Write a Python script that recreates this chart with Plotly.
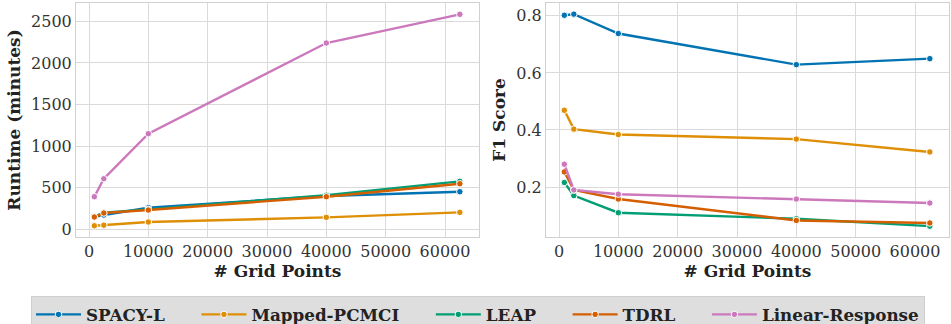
import plotly.graph_objects as go

grid_points = [900, 2500, 10000, 40000, 62500]
methods = ["SPACY-L", "Mapped-PCMCI", "LEAP", "TDRL", "Linear-Response"]
colors = ["#0173b2", "#de8f05", "#029e73", "#d55e00", "#cc78bc"]

runtime_spacy = [150, 172, 260, 400, 452]
runtime_pcmci = [43, 50, 88, 144, 204]
runtime_leap = [152, 200, 240, 410, 577]
runtime_tdrl = [148, 196, 232, 392, 548]
runtime_lr = [392, 608, 1149, 2239, 2584]

f1_spacy = [0.802, 0.806, 0.738, 0.629, 0.650]
f1_pcmci = [0.469, 0.403, 0.384, 0.368, 0.323]
f1_leap = [0.216, 0.170, 0.110, 0.089, 0.063]
f1_tdrl = [0.253, 0.190, 0.158, 0.083, 0.074]
f1_lr = [0.280, 0.190, 0.175, 0.158, 0.144]

runtimes = [runtime_spacy, runtime_pcmci, runtime_leap, runtime_tdrl, runtime_lr]
f1s = [f1_spacy, f1_pcmci, f1_leap, f1_tdrl, f1_lr]

xticks = [0, 10000, 20000, 30000, 40000, 50000, 60000]
xtick_labels = ["0", "10000", "20000", "30000", "40000", "50000", "60000"]
rt_ticks = [0, 500, 1000, 1500, 2000, 2500]
rt_tick_labels = ["0", "500", "1000", "1500", "2000", "2500"]
f1_ticks = [0.2, 0.4, 0.6, 0.8]
f1_tick_labels = ["0.2", "0.4", "0.6", "0.8"]

FONT = "DejaVu Serif"
fig = go.Figure()
for i, (name, c, rt, f1) in enumerate(zip(methods, colors, runtimes, f1s)):
    common = dict(mode="lines+markers", line=dict(color=c, width=2.4),
                  marker=dict(color=c, size=6.5, line=dict(color="white", width=1)))
    pad = "&nbsp;" * 5 if i < len(methods) - 1 else ""
    label = f"<b>{name}</b>{pad}"
    fig.add_trace(go.Scatter(x=grid_points, y=rt, name=label, legendgroup=name,
                             xaxis="x", yaxis="y", **common))
    fig.add_trace(go.Scatter(x=grid_points, y=f1, name=label, legendgroup=name,
                             showlegend=False, xaxis="x2", yaxis="y2", **common))

title_font = dict(family=FONT, size=17, color="#222222")
tick_font = dict(family=FONT, size=16, color="#333333")

fig.update_layout(
    width=951, height=324,
    margin=dict(l=0, r=0, t=3, b=87, autoexpand=False),
    paper_bgcolor="white", plot_bgcolor="white",
    font=dict(family=FONT, color="#333333", size=16),
    xaxis=dict(domain=[76/951, 479/951], range=[-2191, 65730],
               tickvals=xticks, ticktext=xtick_labels, tickfont=tick_font, tickangle=0,
               title=dict(text="<b># Grid Points</b>", font=title_font, standoff=0),
               anchor="y"),
    yaxis=dict(domain=[0, 1], range=[-92, 2720],
               tickvals=rt_ticks, ticktext=rt_tick_labels, tickfont=tick_font,
               title=dict(text="<b>Runtime (minutes)</b>", font=title_font, standoff=6),
               anchor="x"),
    xaxis2=dict(domain=[546/951, 949/951], range=[-2191, 65730],
                tickvals=xticks, ticktext=xtick_labels, tickfont=tick_font, tickangle=0,
                title=dict(text="<b># Grid Points</b>", font=title_font, standoff=0),
                anchor="y2"),
    yaxis2=dict(domain=[0, 1], range=[0.025, 0.845],
                tickvals=f1_ticks, ticktext=f1_tick_labels, tickfont=tick_font,
                title=dict(text="<b>F1 Score</b>", font=title_font, standoff=6),
                anchor="x2"),
    legend=dict(orientation="h", x=31/951, xanchor="left",
                yref="container", y=1 - 296/324, yanchor="top",
                bgcolor="#dedede", bordercolor="#cfcfcf", borderwidth=1,
                font=dict(family=FONT, size=16.75, color="#222222"),
                itemwidth=45, tracegroupgap=0),
    showlegend=True,
)
fig.update_xaxes(showgrid=True, gridcolor="#dadada", gridwidth=1, zeroline=False,
                 showline=True, linecolor="#d0d0d0", linewidth=1, mirror=True, ticks="")
fig.update_yaxes(showgrid=True, gridcolor="#dadada", gridwidth=1, zeroline=False,
                 showline=True, linecolor="#d0d0d0", linewidth=1, mirror=True, ticks="")

fig.write_html("out.html")
